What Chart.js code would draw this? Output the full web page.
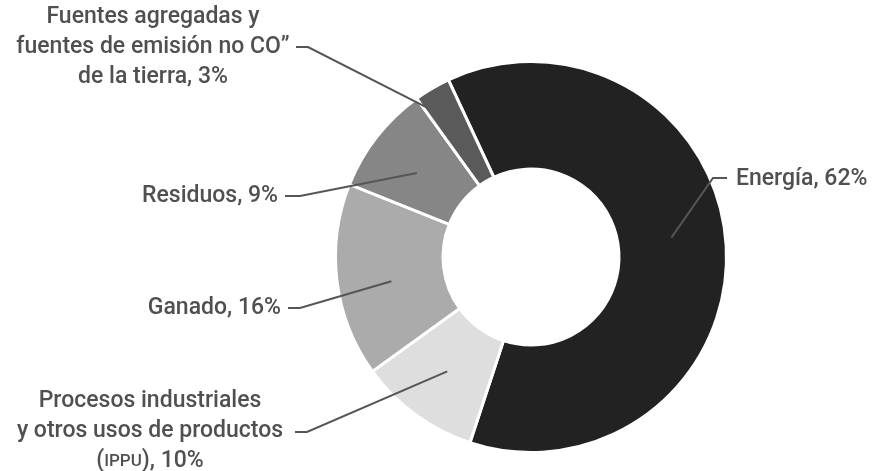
<!DOCTYPE html>
<html lang="es">

<head>
    <meta charset="UTF-8">
    <title>Emisiones por sector</title>
    <script src="https://cdn.jsdelivr.net/npm/chart.js"></script>
    <style>
        body {
            margin: 0;
            padding: 0;
            background-color: #fff;
        }

        .chart-container {
            width: 876px;
            height: 471px;
        }
    </style>
</head>

<body>
    <div class="chart-container">
        <canvas id="sectorChart"></canvas>
    </div>

    <script>
        // Data
        const categories = [
            'Energía',
            'Procesos industriales y otros usos de productos (IPPU)',
            'Ganado',
            'Residuos',
            'Fuentes agregadas y fuentes de emisión no CO” de la tierra'
        ];
        const shares = [62, 10, 16, 9, 3];
        const sliceColors = ['#222222', '#dedede', '#ababab', '#868686', '#5a5a5a'];

        // Label text, one entry per line (parts: [text, small])
        const labelLines = [
            [[['Energía, 62%', false]]],
            [[['Procesos industriales', false]], [['y otros usos de productos', false]], [['(', false], ['IPPU', true], ['), 10%', false]]],
            [[['Ganado, 16%', false]]],
            [[['Residuos, 9%', false]]],
            [[['Fuentes agregadas y', false]], [['fuentes de emisión no CO”', false]], [['de la tierra, 3%', false]]]
        ];

        // Label layout: text anchor, alignment, leader elbow and end,
        // where along the slice (t) and how far out (r) the leader starts
        const labelLayout = [
            { tx: 736, ty: 179, align: 'left', elbow: [713, 178], end: [727, 178], t: 0.48, r: 0.5 },
            { tx: 150, ty: 431, align: 'center', elbow: [307, 432], end: [295, 432], t: 0.5, r: 0.5 },
            { tx: 281, ty: 308, align: 'right', elbow: [300, 308], end: [288, 308], t: 0.45, r: 0.5 },
            { tx: 278, ty: 196, align: 'right', elbow: [300, 196], end: [285, 196], t: 0.45, r: 0.5 },
            { tx: 153, ty: 47, align: 'center', elbow: [308, 47], end: [296, 47], t: 0.1, r: 0.87 }
        ];

        const FONT = '500 23px Roboto';
        const SMALL_FONT = '500 17px Roboto';
        const LINE_H = 30;

        const calloutPlugin = {
            id: 'callouts',
            afterDatasetsDraw(chart) {
                const ctx = chart.ctx;
                const arcs = chart.getDatasetMeta(0).data;
                ctx.save();
                arcs.forEach((arc, i) => {
                    const lay = labelLayout[i];
                    const ang = arc.startAngle + lay.t * (arc.endAngle - arc.startAngle);
                    const rad = arc.innerRadius + lay.r * (arc.outerRadius - arc.innerRadius);
                    const sx = arc.x + Math.cos(ang) * rad;
                    const sy = arc.y + Math.sin(ang) * rad;

                    // leader line
                    ctx.strokeStyle = '#555';
                    ctx.lineWidth = 2;
                    ctx.beginPath();
                    ctx.moveTo(sx, sy);
                    ctx.lineTo(lay.elbow[0], lay.elbow[1]);
                    ctx.lineTo(lay.end[0], lay.end[1]);
                    ctx.stroke();

                    // text
                    ctx.fillStyle = '#505050';
                    ctx.textBaseline = 'middle';
                    const lines = labelLines[i];
                    const y0 = lay.ty - (lines.length - 1) / 2 * LINE_H;
                    lines.forEach((parts, j) => {
                        const widths = parts.map(p => {
                            ctx.font = p[1] ? SMALL_FONT : FONT;
                            return ctx.measureText(p[0]).width;
                        });
                        const total = widths.reduce((a, b) => a + b, 0);
                        let x = lay.tx;
                        if (lay.align === 'center') x = lay.tx - total / 2;
                        if (lay.align === 'right') x = lay.tx - total;
                        ctx.textAlign = 'left';
                        parts.forEach((p, k) => {
                            ctx.font = p[1] ? SMALL_FONT : FONT;
                            ctx.fillText(p[0], x, y0 + j * LINE_H + (p[1] ? 1 : 0));
                            x += widths[k];
                        });
                    });
                });
                ctx.restore();
            }
        };

        const ctx = document.getElementById('sectorChart').getContext('2d');
        new Chart(ctx, {
            type: 'doughnut',
            data: {
                labels: categories,
                datasets: [{
                    data: shares,
                    backgroundColor: sliceColors,
                    borderColor: '#ffffff',
                    borderWidth: 3
                }]
            },
            options: {
                responsive: true,
                maintainAspectRatio: false,
                animation: false,
                rotation: -25,
                cutout: 88,
                layout: {
                    padding: { left: 334, right: 148, top: 60, bottom: 17 }
                },
                plugins: {
                    legend: { display: false },
                    tooltip: { enabled: false }
                }
            },
            plugins: [calloutPlugin]
        });
    </script>
</body>

</html>
